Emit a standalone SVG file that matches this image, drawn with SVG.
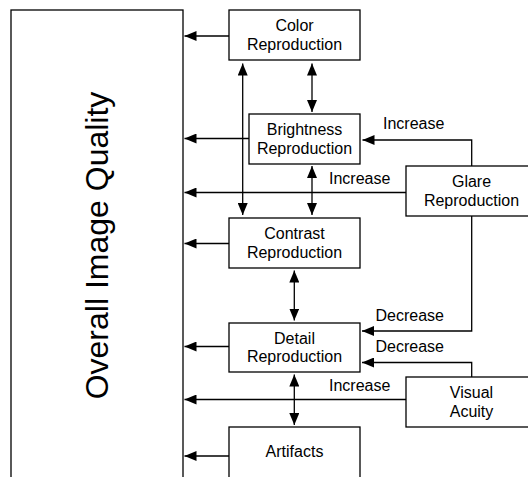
<svg xmlns="http://www.w3.org/2000/svg" width="528" height="477" viewBox="0 0 528 477">
<defs>
<marker id="ah" markerWidth="13" markerHeight="10" refX="12" refY="5" orient="auto-start-reverse" markerUnits="userSpaceOnUse">
<path d="M0,0 L12,5 L0,10 Z" fill="#000"/>
</marker>
<style>
.box{fill:#fff;stroke:#000;stroke-width:1.3}
.t{font-family:"Liberation Sans",Arial,sans-serif;font-size:16px;fill:#000;text-anchor:middle}
.lbl{font-family:"Liberation Sans",Arial,sans-serif;font-size:16px;fill:#000}
.c{fill:none;stroke:#000;stroke-width:1.3}
</style>
</defs>
<rect width="528" height="477" fill="#fff"/>
<g id="overall">
<rect class="box" x="11" y="10" width="172" height="490"/>
<text transform="translate(108,245.5) rotate(-90)" style="font-family:'Liberation Sans',Arial,sans-serif;font-size:32px;text-anchor:middle" fill="#000">Overall Image Quality</text>
</g>
<g id="color">
<rect class="box" x="229" y="10" width="131" height="50"/>
<text class="t" x="294.5" y="31">Color</text>
<text class="t" x="294.5" y="49.5">Reproduction</text>
</g>
<g id="brightness">
<rect class="box" x="249" y="114" width="111" height="50"/>
<text class="t" x="304.5" y="135">Brightness</text>
<text class="t" x="304.5" y="153.5">Reproduction</text>
</g>
<g id="contrast">
<rect class="box" x="229" y="218" width="131" height="50"/>
<text class="t" x="294.5" y="239">Contrast</text>
<text class="t" x="294.5" y="257.5">Reproduction</text>
</g>
<g id="detail">
<rect class="box" x="229" y="323" width="131" height="49"/>
<text class="t" x="294.5" y="343.5">Detail</text>
<text class="t" x="294.5" y="362">Reproduction</text>
</g>
<g id="artifacts">
<rect class="box" x="229" y="427" width="131" height="55"/>
<text class="t" x="294.5" y="457">Artifacts</text>
</g>
<g id="glare">
<rect class="box" x="406" y="166" width="131" height="50"/>
<text class="t" x="471.5" y="187">Glare</text>
<text class="t" x="471.5" y="205.5">Reproduction</text>
</g>
<g id="visual">
<rect class="box" x="406" y="377" width="131" height="50"/>
<text class="t" x="471.5" y="398">Visual</text>
<text class="t" x="471.5" y="416.5">Acuity</text>
</g>
<g id="connectors">
<path class="c" d="M229,36 H184.5" marker-end="url(#ah)"/>
<path class="c" d="M249,138.5 H184.5" marker-end="url(#ah)"/>
<path class="c" d="M406,192.5 H184.5" marker-end="url(#ah)"/>
<path class="c" d="M229,243.5 H184.5" marker-end="url(#ah)"/>
<path class="c" d="M229,346.5 H184.5" marker-end="url(#ah)"/>
<path class="c" d="M406,399.5 H184.5" marker-end="url(#ah)"/>
<path class="c" d="M229,456 H184.5" marker-end="url(#ah)"/>
<path class="c" d="M242.7,63.5 V215" marker-start="url(#ah)" marker-end="url(#ah)"/>
<path class="c" d="M312,63.5 V112" marker-start="url(#ah)" marker-end="url(#ah)"/>
<path class="c" d="M312,166 V215" marker-start="url(#ah)" marker-end="url(#ah)"/>
<path class="c" d="M294.3,270.5 V320.5" marker-start="url(#ah)" marker-end="url(#ah)"/>
<path class="c" d="M294.3,374.5 V425" marker-start="url(#ah)" marker-end="url(#ah)"/>
<path class="c" d="M471.7,166 V140 H362.5" marker-end="url(#ah)"/>
<path class="c" d="M471.7,216 V331 H362" marker-end="url(#ah)"/>
<path class="c" d="M471.7,377 V362.5 H362" marker-end="url(#ah)"/>
<text class="lbl" x="383" y="128.5">Increase</text>
<text class="lbl" x="329" y="184">Increase</text>
<text class="lbl" x="375.5" y="320.5">Decrease</text>
<text class="lbl" x="375.5" y="352">Decrease</text>
<text class="lbl" x="329" y="390.5">Increase</text>
</g>
</svg>
